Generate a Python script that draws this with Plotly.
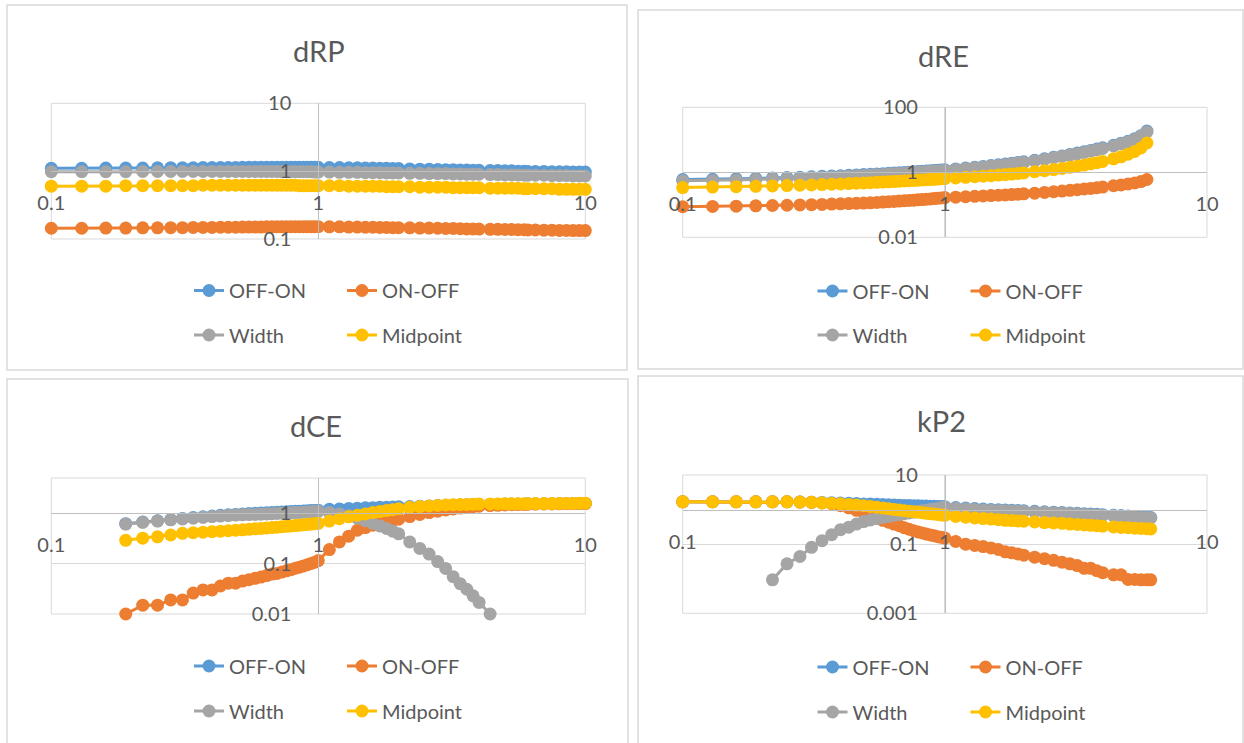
import plotly.graph_objects as go

# ---------------- data ----------------
X = [0.10, 0.13, 0.16, 0.19, 0.22, 0.25, 0.28, 0.31, 0.34, 0.37, 0.40, 0.43, 0.46, 0.49, 0.52,
     0.55, 0.58, 0.61, 0.64, 0.67, 0.70, 0.73, 0.76, 0.79, 0.82, 0.85, 0.88, 0.91, 0.94, 0.97, 1.00,
     1.1, 1.2, 1.3, 1.4, 1.5, 1.6, 1.7, 1.8, 1.9, 2.0,
     2.2, 2.4, 2.6, 2.8, 3.0, 3.2, 3.4, 3.6, 3.8, 4.0,
     4.4, 4.7, 5.0, 5.3, 5.6, 5.9, 6.1,
     6.5, 7.0, 7.5, 8.0, 8.5, 9.0, 9.5, 10.0]

SERIES_NAMES = ["OFF-ON", "ON-OFF", "Width", "Midpoint"]
X_TICKS = [0.1, 1, 10]
X_TICKTEXT = ["0.1", "1", "10"]

# dRP
DRP_OFF_ON = [1.10, 1.10, 1.11, 1.11, 1.11, 1.12, 1.12, 1.12, 1.12, 1.13, 1.13, 1.13, 1.13, 1.13,
              1.14, 1.14, 1.14, 1.14, 1.14, 1.14, 1.14, 1.14, 1.14, 1.14, 1.14, 1.14, 1.14, 1.14,
              1.14, 1.14, 1.14,
              1.13, 1.13, 1.12, 1.12, 1.11, 1.11, 1.10, 1.10, 1.09, 1.09,
              1.08, 1.07, 1.07, 1.06, 1.05, 1.05, 1.04, 1.04, 1.03, 1.03,
              1.02, 1.02, 1.01, 1.01, 1.00, 1.00, 0.99,
              0.99, 0.99, 0.98, 0.98, 0.98, 0.97, 0.97, 0.97]
DRP_ON_OFF = [0.144, 0.144, 0.145, 0.145, 0.146, 0.146, 0.147, 0.147, 0.148, 0.148, 0.148, 0.149,
              0.149, 0.149, 0.150, 0.150, 0.150, 0.150, 0.151, 0.151, 0.151, 0.151, 0.152, 0.152,
              0.152, 0.152, 0.152, 0.152, 0.152, 0.152, 0.152,
              0.151, 0.151, 0.150, 0.150, 0.149, 0.149, 0.148, 0.148, 0.147, 0.147,
              0.146, 0.145, 0.145, 0.144, 0.143, 0.143, 0.142, 0.141, 0.141, 0.140,
              0.139, 0.139, 0.138, 0.138, 0.137, 0.137, 0.136,
              0.136, 0.135, 0.135, 0.134, 0.134, 0.133, 0.133, 0.133]
DRP_WIDTH = [0.98, 0.98, 0.98, 0.98, 0.99, 0.99, 0.99, 0.99, 0.99, 0.99, 0.99, 0.99, 0.99, 0.99,
             0.99, 0.99, 0.99, 0.99, 0.99, 0.99, 0.99, 0.98, 0.98, 0.98, 0.98, 0.98, 0.98, 0.98,
             0.98, 0.97, 0.97,
             0.97, 0.96, 0.96, 0.96, 0.95, 0.95, 0.95, 0.94, 0.94, 0.94,
             0.93, 0.93, 0.92, 0.92, 0.92, 0.91, 0.91, 0.90, 0.90, 0.90,
             0.89, 0.89, 0.88, 0.88, 0.88, 0.87, 0.87,
             0.87, 0.87, 0.86, 0.86, 0.86, 0.85, 0.85, 0.85]
DRP_MID = [0.60, 0.60, 0.60, 0.61, 0.61, 0.61, 0.61, 0.61, 0.61, 0.62, 0.62, 0.62, 0.62, 0.62,
           0.62, 0.62, 0.62, 0.62, 0.62, 0.62, 0.62, 0.62, 0.62, 0.62, 0.62, 0.61, 0.61, 0.61,
           0.61, 0.61, 0.61,
           0.61, 0.61, 0.60, 0.60, 0.60, 0.60, 0.60, 0.59, 0.59, 0.59,
           0.59, 0.58, 0.58, 0.58, 0.58, 0.57, 0.57, 0.57, 0.57, 0.57,
           0.56, 0.56, 0.56, 0.56, 0.56, 0.55, 0.55,
           0.55, 0.55, 0.55, 0.54, 0.54, 0.54, 0.54, 0.54]
DRP_YTICKS = [0.1, 1, 10]
DRP_YTEXT = ["0.1", "1", "10"]

# dRE
DRE_OFF_ON = [0.60, 0.61, 0.63, 0.65, 0.67, 0.69, 0.71, 0.73, 0.75, 0.77, 0.79, 0.81, 0.83, 0.85,
              0.87, 0.89, 0.91, 0.93, 0.95, 0.97, 0.99, 1.01, 1.03, 1.05, 1.07, 1.09, 1.11, 1.13,
              1.15, 1.17, 1.19,
              1.27, 1.35, 1.43, 1.52, 1.61, 1.70, 1.79, 1.89, 1.99, 2.10,
              2.35, 2.60, 2.90, 3.20, 3.55, 3.90, 4.30, 4.70, 5.20, 5.70,
              6.8, 7.9, 9.1, 10.8, 13.4, 18.5]
DRE_ON_OFF = [0.087, 0.089, 0.091, 0.093, 0.095, 0.097, 0.099, 0.101, 0.103, 0.105, 0.107, 0.109,
              0.111, 0.113, 0.115, 0.118, 0.121, 0.124, 0.127, 0.130, 0.133, 0.136, 0.139, 0.142,
              0.145, 0.148, 0.151, 0.155, 0.159, 0.163, 0.167,
              0.172, 0.177, 0.182, 0.187, 0.192, 0.197, 0.202, 0.207, 0.212, 0.217,
              0.228, 0.240, 0.252, 0.265, 0.278, 0.292, 0.306, 0.320, 0.335, 0.350,
              0.385, 0.41, 0.44, 0.47, 0.52, 0.60]
DRE_WIDTH = [0.55, 0.56, 0.58, 0.60, 0.62, 0.64, 0.66, 0.68, 0.70, 0.72, 0.74, 0.76, 0.78, 0.80,
             0.82, 0.84, 0.86, 0.88, 0.90, 0.92, 0.94, 0.96, 0.98, 1.00, 1.02, 1.04, 1.06, 1.08,
             1.10, 1.12, 1.14,
             1.22, 1.30, 1.38, 1.46, 1.55, 1.63, 1.72, 1.82, 1.92, 2.02,
             2.25, 2.50, 2.80, 3.10, 3.40, 3.75, 4.10, 4.50, 4.95, 5.40,
             6.5, 7.5, 8.7, 10.3, 12.8, 17.5]
DRE_MID = [0.34, 0.35, 0.36, 0.37, 0.38, 0.39, 0.40, 0.41, 0.42, 0.43, 0.44, 0.45, 0.46, 0.47,
           0.48, 0.49, 0.50, 0.51, 0.52, 0.53, 0.54, 0.55, 0.56, 0.57, 0.58, 0.59, 0.60, 0.61,
           0.62, 0.63, 0.64,
           0.67, 0.70, 0.73, 0.76, 0.79, 0.82, 0.85, 0.88, 0.92, 0.96,
           1.04, 1.12, 1.21, 1.31, 1.42, 1.54, 1.67, 1.82, 1.98, 2.15,
           2.6, 3.0, 3.6, 4.4, 5.6, 8.0]
DRE_YTICKS = [0.01, 1, 100]
DRE_YTEXT = ["0.01", "1", "100"]

# dCE (series start at x = 0.19)
DCE_OFF_ON = [0.62, 0.67, 0.71, 0.75, 0.79, 0.82, 0.85, 0.88, 0.91, 0.93, 0.95, 0.97, 0.99, 1.00,
              1.01, 1.02, 1.03, 1.05, 1.06, 1.07, 1.08, 1.09, 1.10, 1.11, 1.12, 1.13, 1.14, 1.15,
              1.20, 1.22, 1.24, 1.26, 1.28, 1.29, 1.31, 1.32, 1.33, 1.34,
              1.36, 1.38, 1.40, 1.42, 1.44, 1.45, 1.46, 1.47, 1.48, 1.49,
              1.50, 1.51, 1.52, 1.52, 1.53, 1.53, 1.54,
              1.54, 1.55, 1.55, 1.56, 1.56, 1.56, 1.57, 1.57]
DCE_ON_OFF = [0.010, 0.015, 0.015, 0.019, 0.019, 0.026, 0.030, 0.030, 0.036, 0.041, 0.041, 0.045,
              0.048, 0.051, 0.054, 0.058, 0.062, 0.064, 0.068, 0.072, 0.076, 0.081, 0.085, 0.090,
              0.095, 0.101, 0.107, 0.115,
              0.19, 0.27, 0.35, 0.46, 0.52, 0.58, 0.63, 0.68, 0.72, 0.76,
              0.86, 0.95, 1.03, 1.10, 1.16, 1.22, 1.27, 1.31, 1.35, 1.38,
              1.42, 1.44, 1.46, 1.48, 1.49, 1.50, 1.51,
              1.52, 1.53, 1.53, 1.54, 1.55, 1.55, 1.56, 1.56]
DCE_WIDTH = [0.61, 0.66, 0.70, 0.74, 0.77, 0.80, 0.83, 0.86, 0.88, 0.90, 0.92, 0.93, 0.94, 0.95,
             0.96, 0.97, 0.98, 0.99, 1.00, 1.01, 1.02, 1.03, 1.04, 1.05, 1.06, 1.07, 1.08, 1.09,
             1.04, 0.97, 0.89, 0.80, 0.71, 0.63, 0.56, 0.50, 0.44, 0.39,
             0.27, 0.20, 0.155, 0.11, 0.080, 0.055, 0.040, 0.031, 0.023, 0.017,
             0.010]
DCE_MID = [0.29, 0.32, 0.34, 0.37, 0.40, 0.41, 0.42, 0.43, 0.44, 0.45, 0.46, 0.47, 0.48, 0.49,
           0.50, 0.51, 0.52, 0.53, 0.54, 0.55, 0.56, 0.57, 0.58, 0.59, 0.60, 0.61, 0.62, 0.63,
           0.70, 0.78, 0.85, 0.91, 0.97, 1.03, 1.08, 1.13, 1.18, 1.23,
           1.31, 1.36, 1.40, 1.43, 1.46, 1.48, 1.49, 1.50, 1.51, 1.52,
           1.53, 1.53, 1.54, 1.54, 1.55, 1.55, 1.55,
           1.56, 1.56, 1.56, 1.57, 1.57, 1.57, 1.58, 1.58]
DCE_YTICKS = [0.01, 0.1, 1]
DCE_YTEXT = ["0.01", "0.1", "1"]

# kP2 (Width starts at x = 0.22)
KP2_OFF_ON = [1.67, 1.67, 1.67, 1.67, 1.67, 1.67, 1.66, 1.64, 1.61, 1.58, 1.55, 1.52, 1.49, 1.46,
              1.44, 1.42, 1.40, 1.38, 1.36, 1.34, 1.32, 1.31, 1.29, 1.28, 1.27, 1.26, 1.25, 1.24,
              1.23, 1.22, 1.21,
              1.15, 1.11, 1.07, 1.04, 1.01, 0.99, 0.97, 0.95, 0.94, 0.93,
              0.89, 0.86, 0.84, 0.82, 0.80, 0.78, 0.76, 0.74, 0.73, 0.71,
              0.69, 0.67, 0.65, 0.63, 0.62, 0.60, 0.59]
KP2_ON_OFF = [1.67, 1.67, 1.67, 1.67, 1.67, 1.67, 1.65, 1.62, 1.56, 1.48, 1.30, 1.12, 0.95, 0.80,
              0.67, 0.57, 0.49, 0.43, 0.38, 0.34, 0.30, 0.27, 0.245, 0.225, 0.21, 0.195, 0.185,
              0.175, 0.165, 0.158, 0.150,
              0.120, 0.100, 0.092, 0.085, 0.078, 0.070, 0.060, 0.056, 0.052, 0.048,
              0.042, 0.038, 0.034, 0.030, 0.027, 0.024, 0.020, 0.020, 0.017, 0.015,
              0.013, 0.013, 0.0095, 0.0095, 0.0093, 0.0093, 0.0093]
KP2_WIDTH = [0.0093, 0.027, 0.044, 0.081, 0.126, 0.188, 0.263, 0.31, 0.38, 0.45, 0.50, 0.55, 0.59,
             0.63, 0.68, 0.72, 0.76, 0.80, 0.84, 0.88, 0.92, 0.96, 1.00, 1.04, 1.08, 1.12, 1.16,
             1.10, 1.05, 1.01, 0.98, 0.96, 0.94, 0.93, 0.91, 0.90, 0.89,
             0.85, 0.83, 0.81, 0.79, 0.77, 0.75, 0.73, 0.71, 0.70, 0.68,
             0.66, 0.64, 0.62, 0.61, 0.59, 0.58, 0.57]
KP2_MID = [1.67, 1.67, 1.67, 1.67, 1.67, 1.67, 1.65, 1.62, 1.57, 1.52, 1.47, 1.41, 1.35, 1.29,
           1.23, 1.17, 1.11, 1.06, 1.01, 0.97, 0.93, 0.90, 0.87, 0.84, 0.81, 0.78, 0.76, 0.74,
           0.72, 0.70, 0.68,
           0.63, 0.60, 0.57, 0.55, 0.53, 0.51, 0.49, 0.48, 0.47, 0.46,
           0.44, 0.42, 0.41, 0.40, 0.38, 0.37, 0.36, 0.35, 0.34, 0.33,
           0.315, 0.305, 0.30, 0.29, 0.285, 0.28, 0.275]
KP2_YTICKS = [0.001, 0.1, 10]
KP2_YTEXT = ["0.001", "0.1", "10"]

# ---------------- styling / layout ----------------
W, H = 1244, 743
FONT = "Lato"
TXT = "#595959"
GRID = "#d9d9d9"
AXIS = "#bfbfbf"
COLORS = ["#5B9BD5", "#ED7D31", "#A5A5A5", "#FFC000"]


def place(vals, start):
    out = [None] * start + list(vals)
    return out + [None] * (len(X) - len(out))


panels = [
    dict(title="dRP", data=[DRP_OFF_ON, DRP_ON_OFF, DRP_WIDTH, DRP_MID], starts=[0, 0, 0, 0],
         xpx=(51.3, 585.3), ypx=(103.3, 239.0), yrange=(-1, 1), yt=DRP_YTICKS, ytt=DRP_YTEXT,
         tpos=(319, 50), box=(7, 5, 627, 370), rows=(290.5, 335), lx=(229, 382)),
    dict(title="dRE", data=[DRE_OFF_ON, DRE_ON_OFF, DRE_WIDTH, DRE_MID], starts=[0, 0, 0, 0],
         xpx=(682.7, 1207), ypx=(107.3, 237.3), yrange=(-2, 2), yt=DRE_YTICKS, ytt=DRE_YTEXT,
         tpos=(943, 55), box=(638, 10, 1243, 369), rows=(291, 335), lx=(852.5, 1005.5)),
    dict(title="dCE", data=[DCE_OFF_ON, DCE_ON_OFF, DCE_WIDTH, DCE_MID], starts=[3, 3, 3, 3],
         xpx=(51.3, 585.3), ypx=(478, 614), yrange=(-2, 0.70), yt=DCE_YTICKS, ytt=DCE_YTEXT,
         tpos=(316, 425), box=(7, 379, 628, 746), rows=(666, 711), lx=(229, 382)),
    dict(title="kP2", data=[KP2_OFF_ON, KP2_ON_OFF, KP2_WIDTH, KP2_MID], starts=[0, 0, 4, 0],
         xpx=(682.7, 1207), ypx=(475, 613.3), yrange=(-3, 1), yt=KP2_YTICKS, ytt=KP2_YTEXT,
         tpos=(941, 420), box=(638, 376, 1243, 746), rows=(667, 712), lx=(852.5, 1005.5)),
]

fig = go.Figure()
layout = dict(width=W, height=H, margin=dict(l=0, r=0, t=0, b=0, autoexpand=False),
              paper_bgcolor="white", plot_bgcolor="white", showlegend=True,
              font=dict(family=FONT, color=TXT), hovermode=False)
shapes, annotations = [], []
leg_count = 0
tickfont = dict(family=FONT, size=20, color=TXT)

for i, p in enumerate(panels):
    n = "" if i == 0 else str(i + 1)
    xd = [p["xpx"][0] / W, p["xpx"][1] / W]
    yd = [1 - p["ypx"][1] / H, 1 - p["ypx"][0] / H]
    xr = [-1, 1]
    yr = list(p["yrange"])
    x1pos = xd[0] + (0 - xr[0]) / (xr[1] - xr[0]) * (xd[1] - xd[0])
    y1pos = yd[0] + (0 - yr[0]) / (yr[1] - yr[0]) * (yd[1] - yd[0])
    layout["xaxis" + n] = dict(type="log", range=xr, domain=xd, anchor="free", position=y1pos,
                               tickvals=X_TICKS, ticktext=X_TICKTEXT, showgrid=True, gridcolor=GRID,
                               gridwidth=1, showline=True, linecolor=AXIS, linewidth=1, ticks="",
                               zeroline=False, tickfont=tickfont, ticklabelstandoff=14,
                               automargin=False, fixedrange=True)
    layout["yaxis" + n] = dict(type="log", range=yr, domain=yd, anchor="free", position=x1pos,
                               tickvals=p["yt"], ticktext=p["ytt"], showgrid=True, gridcolor=GRID,
                               gridwidth=1, showline=True, linecolor=AXIS, linewidth=1, ticks="",
                               zeroline=False, tickfont=tickfont, ticklabelstandoff=23,
                               automargin=False, fixedrange=True)
    # plot-area frame and chart box
    shapes.append(dict(type="rect", xref="x" + n + " domain", yref="y" + n + " domain",
                       x0=0, x1=1, y0=0, y1=1, line=dict(color=GRID, width=1), layer="below"))
    bx = p["box"]
    shapes.append(dict(type="rect", xref="paper", yref="paper", x0=bx[0] / W, x1=bx[2] / W,
                       y0=1 - bx[3] / H, y1=1 - bx[1] / H, line=dict(color="#d9d9d9", width=1.5)))
    annotations.append(dict(text=p["title"], xref="paper", yref="paper", x=p["tpos"][0] / W,
                            y=1 - p["tpos"][1] / H, xanchor="center", yanchor="middle",
                            showarrow=False, font=dict(family=FONT, size=29, color=TXT)))
    for k, (name, vals, st) in enumerate(zip(SERIES_NAMES, p["data"], p["starts"])):
        leg_count += 1
        lname = "legend" if leg_count == 1 else "legend%d" % leg_count
        fig.add_trace(go.Scatter(
            x=X, y=place(vals, st), name=name, mode="lines+markers", showlegend=True,
            xaxis="x" + n, yaxis="y" + n, legend=lname, cliponaxis=False,
            line=dict(color=COLORS[k], width=3), marker=dict(color=COLORS[k], size=13)))
        row = k // 2
        col = k % 2
        layout[lname] = dict(x=(p["lx"][col] - 40) / W, y=1 - p["rows"][row] / H,
                             xanchor="left", yanchor="middle", orientation="h",
                             bgcolor="rgba(0,0,0,0)", borderwidth=0,
                             font=dict(family=FONT, size=20, color=TXT))

layout["shapes"] = shapes
layout["annotations"] = annotations
fig.update_layout(**layout)
fig.write_html("out.html", post_script="document.body.style.margin='0';",
               config={"displayModeBar": False})
